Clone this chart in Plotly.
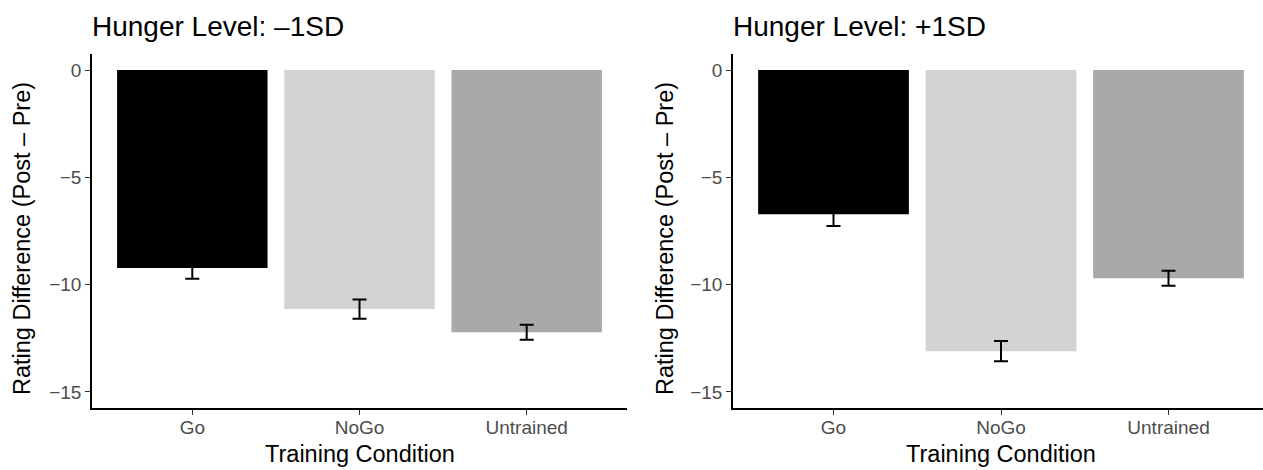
import plotly.graph_objects as go

conditions = ["Go", "NoGo", "Untrained"]
low_hunger_mean = [-9.22, -11.14, -12.22]
low_hunger_se = [0.50, 0.45, 0.35]
high_hunger_mean = [-6.72, -13.10, -9.70]
high_hunger_se = [0.55, 0.47, 0.35]
bar_colors = ["#000000", "#D3D3D3", "#A9A9A9"]
panel_titles = ["Hunger Level: \u20131SD", "Hunger Level: +1SD"]
y_tickvals = [0, -5, -10, -15]
y_ticktext = ["0", "\u22125", "\u221210", "\u221215"]

W, H = 1263, 470
FONT = "Liberation Sans, Arial, Helvetica, sans-serif"

fig = go.Figure()
for i, (means, ses) in enumerate([(low_hunger_mean, low_hunger_se), (high_hunger_mean, high_hunger_se)]):
    sfx = "" if i == 0 else "2"
    fig.add_trace(go.Bar(
        x=conditions, y=means, width=0.9,
        marker=dict(color=bar_colors, line=dict(width=0)),
        error_y=dict(type="data", array=ses, visible=True, color="black", thickness=2, width=7),
        xaxis="x" + sfx, yaxis="y" + sfx, showlegend=False,
    ))

left_dom = [92 / W, 627 / W]
right_dom = [733 / W, 1.0]

axis_common = dict(
    showline=True, linecolor="black", linewidth=1.5, showgrid=False, zeroline=False,
    ticks="outside", ticklen=5, tickwidth=1.2, tickcolor="#333333",
    tickfont=dict(family=FONT, size=19, color="#4D4D4D"),
)
xaxis_extra = dict(ticklabelstandoff=-4)

fig.update_layout(
    width=W, height=H,
    margin=dict(l=0, r=0, t=54, b=62),
    paper_bgcolor="white", plot_bgcolor="white",
    bargap=0.1,
    font=dict(family=FONT),
    xaxis=dict(domain=left_dom, anchor="y", type="category", range=[-0.6, 2.6], **axis_common, **xaxis_extra),
    yaxis=dict(domain=[0, 1], anchor="x", range=[-15.75, 0.75], tickvals=y_tickvals, ticktext=y_ticktext, **axis_common),
    xaxis2=dict(domain=right_dom, anchor="y2", type="category", range=[-0.6, -0.6 + 530 / 167.5], **axis_common, **xaxis_extra),
    yaxis2=dict(domain=[0, 1], anchor="x2", range=[-15.75, 0.75], tickvals=y_tickvals, ticktext=y_ticktext, **axis_common),
)

ann = []
plot_h = H - 54 - 62
for i, (dom, ytx) in enumerate([(left_dom, 22), (right_dom, 665)]):
    # panel title
    ann.append(dict(text=panel_titles[i], xref="paper", yref="paper", x=dom[0] - 2 / W, y=(408 - 26) / plot_h,
                     xanchor="left", yanchor="middle", showarrow=False,
                     font=dict(family=FONT, size=28, color="black")))
    # x axis title
    ann.append(dict(text="Training Condition", xref="paper", yref="paper", x=(dom[0] + (dom[0] + 535 / W)) / 2,
                     y=0, yshift=-46, xanchor="center", yanchor="middle", showarrow=False,
                     font=dict(family=FONT, size=23.5, color="black")))
    # y axis title
    ann.append(dict(text="Rating Difference (Post \u2013 Pre)", xref="paper", yref="paper", x=ytx / W,
                     y=(408 - 239) / plot_h, xanchor="center", yanchor="middle", textangle=-90, showarrow=False,
                     font=dict(family=FONT, size=23.5, color="black")))
fig.update_layout(annotations=ann)

fig.write_html("out.html")
